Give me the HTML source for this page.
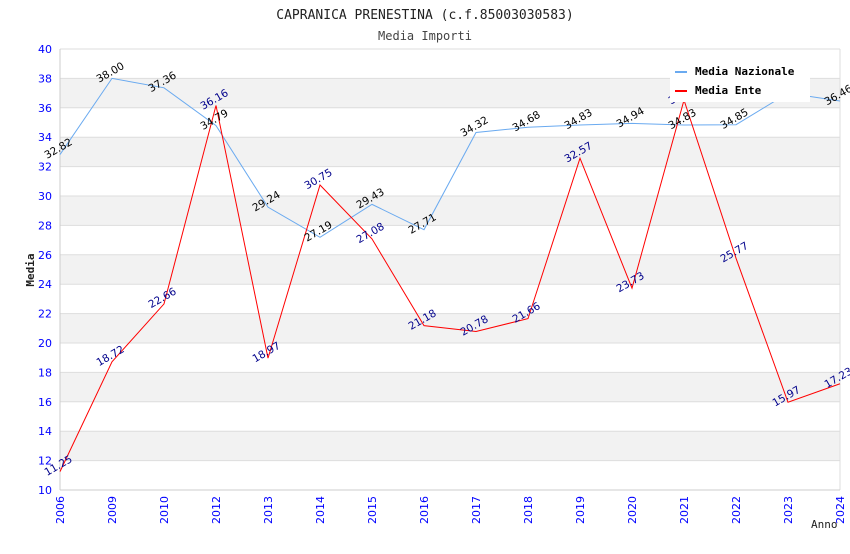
<!DOCTYPE html>
<html><head><meta charset="utf-8"><style>
body{margin:0;background:#fff;font-family:"DejaVu Sans Mono","Liberation Mono",monospace}
</style></head><body>
<svg id="c" width="850" height="550" xmlns="http://www.w3.org/2000/svg" font-family="DejaVu Sans Mono, Liberation Mono, monospace">
<text x="425" y="19" text-anchor="middle" font-size="13" fill="#222">CAPRANICA PRENESTINA (c.f.85003030583)</text>
<text x="425" y="40" text-anchor="middle" font-size="12" fill="#444">Media Importi</text>
<text transform="translate(34,270) rotate(-90)" text-anchor="middle" font-size="11" font-weight="bold" fill="#222">Media</text>
<text x="811" y="528" font-size="11" fill="#222">Anno</text>
<g id="grid"></g><g id="axes"></g><g id="series"></g><g id="labels"></g>
<g>
<rect x="670" y="58" width="140" height="44" fill="#fff"/>
<line x1="675" y1="72" x2="687" y2="72" stroke="#6aaaf0" stroke-width="2"/>
<text x="695" y="75" font-size="11" font-weight="bold" fill="#000">Media Nazionale</text>
<line x1="675" y1="91" x2="687" y2="91" stroke="#f00" stroke-width="2"/>
<text x="695" y="94" font-size="11" font-weight="bold" fill="#000">Media Ente</text>
</g>
</svg>
<script>
const categories=["2006","2009","2010","2012","2013","2014","2015","2016","2017","2018","2019","2020","2021","2022","2023","2024"];
const nazionale=[32.82,38.00,37.36,34.79,29.24,27.19,29.43,27.71,34.32,34.68,34.83,34.94,34.83,34.85,37.0,36.46];
const ente=[11.25,18.72,22.66,36.16,18.97,30.75,27.08,21.18,20.78,21.66,32.57,23.73,36.52,25.77,15.97,17.23];
const yTicks=[10,12,14,16,18,20,22,24,26,28,30,32,34,36,38,40];
const NS="http://www.w3.org/2000/svg";
const SANS="DejaVu Sans, Liberation Sans, sans-serif";
const L=60,R=840,T=49,B=490,ymin=10,ymax=40;
const x=i=>L+i*(R-L)/(categories.length-1);
const y=v=>B-(v-ymin)/(ymax-ymin)*(B-T);
function mk(p,t,a){const e=document.createElementNS(NS,t);for(const k in a)e.setAttribute(k,a[k]);document.getElementById(p).appendChild(e);return e;}
for(let i=0;i<yTicks.length-1;i++){
 if(i%2==1){const r=mk('grid','rect',{x:L,y:y(yTicks[i+1]),width:R-L,height:y(yTicks[i])-y(yTicks[i+1]),fill:'#f2f2f2'});
 
 }
}
yTicks.forEach(t=>{
 const g=mk('grid','line',{x1:L,x2:R,y1:y(t),y2:y(t),stroke:'#ddd'});
 
 
 const tx=mk('axes','text',{x:L-8,y:y(t)+4,'text-anchor':'end','font-size':11,fill:'#00f','font-family':SANS});
 tx.textContent=t;
 
 
});
mk('axes','line',{x1:L,x2:L,y1:T,y2:B,stroke:'#ccc'});
mk('axes','line',{x1:R,x2:R,y1:T,y2:B,stroke:'#ddd'});
mk('axes','line',{x1:L,x2:R,y1:B,y2:B,stroke:'#ccc'});
categories.forEach((c,i)=>{
 const tx=mk('axes','text',{transform:`translate(${x(i)+4},${B+6}) rotate(-90)`,'text-anchor':'end','font-size':11,fill:'#00f','font-family':SANS});
 tx.textContent=c;
 
 
});
function series(d,col,lcol,name){
 const p=mk('series','polyline',{points:d.map((v,i)=>x(i)+','+y(v)).join(' '),fill:'none',stroke:col,'stroke-width':1});
 
 
 d.forEach((v,i)=>{
  const t=mk('labels','text',{transform:`translate(${x(i)},${y(v)-3}) rotate(-30)`,'text-anchor':'middle','font-size':10.5,fill:lcol,'font-family':SANS});
  t.textContent=v.toFixed(2);
  
  
 });
}
series(nazionale,'#6aaaf0','#000','media-nazionale-line');
series(ente,'#f00','#00008b','media-ente-line');
</script>
</body></html>
